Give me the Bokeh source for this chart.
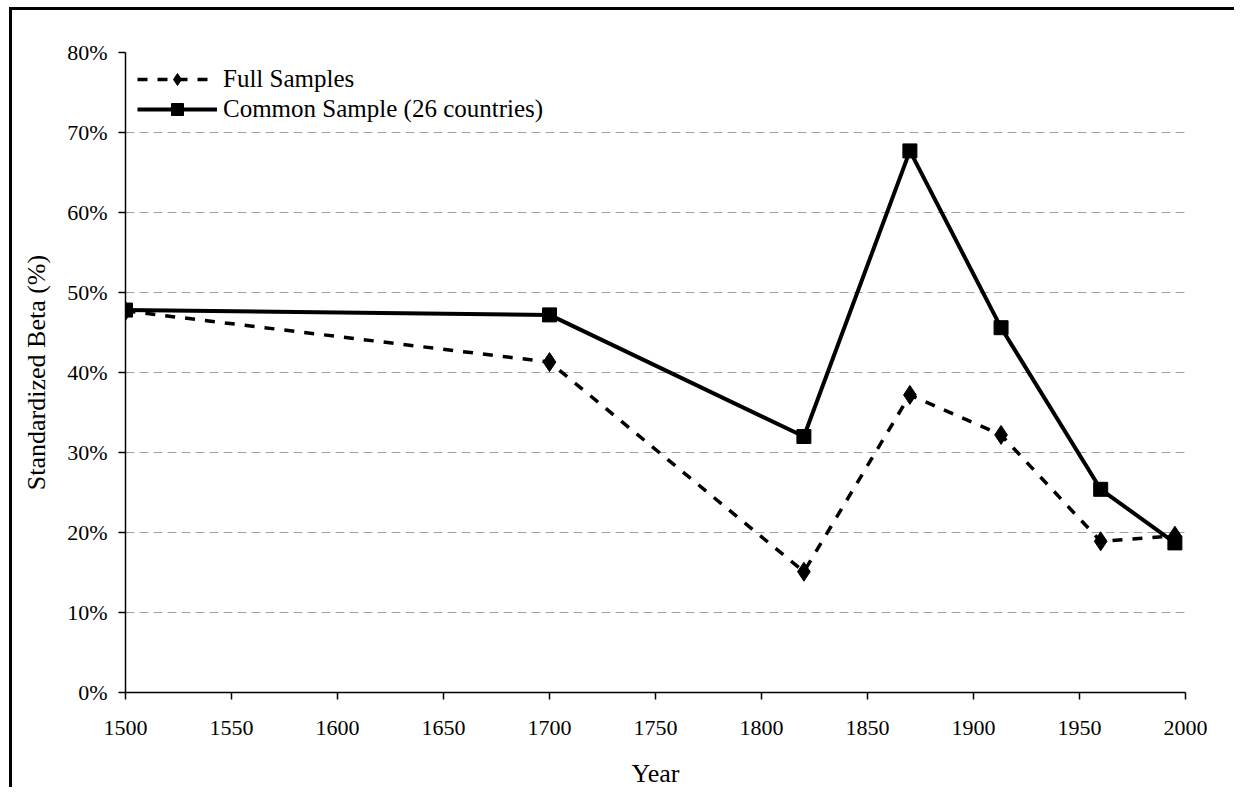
from bokeh.plotting import figure
from bokeh.models import FixedTicker, PrintfTickFormatter, Range1d, Legend, LegendItem
from bokeh.embed import file_html
from bokeh.resources import INLINE

years = [1500, 1700, 1820, 1870, 1913, 1960, 1995]
full_samples = [47.7, 41.3, 15.1, 37.2, 32.2, 18.9, 19.6]
common_sample = [47.8, 47.2, 32.0, 67.7, 45.6, 25.4, 18.7]
x_ticks = [1500, 1550, 1600, 1650, 1700, 1750, 1800, 1850, 1900, 1950, 2000]
y_ticks = [0, 10, 20, 30, 40, 50, 60, 70, 80]

FONT = "Liberation Serif"

p = figure(width=1225, height=780, output_backend="svg", toolbar_location=None,
           x_range=Range1d(1500, 2000), y_range=Range1d(0, 80),
           min_border_left=113, min_border_top=42, min_border_right=52, min_border_bottom=97)
p.styles = {"border-left": "3px solid black", "border-top": "3px solid black",
            "margin-left": "9px", "margin-top": "7px"}
p.outline_line_color = None
p.background_fill_color = "white"
p.border_fill_color = "white"

r_full_line = p.line(years, full_samples, line_color="black", line_width=3.5, line_dash="10 10")
r_full_pts = p.scatter(years, full_samples, marker="diamond", size=19, color="black")
r_common_line = p.line(years, common_sample, line_color="black", line_width=4)
r_common_pts = p.scatter(years, common_sample, marker="square", size=14, color="black")

p.xaxis.ticker = FixedTicker(ticks=x_ticks)
p.yaxis.ticker = FixedTicker(ticks=y_ticks)
p.yaxis.formatter = PrintfTickFormatter(format="%d%%")
p.xgrid.grid_line_color = None
p.ygrid.grid_line_color = "#a0a0a0"
p.ygrid.grid_line_dash = "9 5"
p.ygrid.grid_line_width = 1

for ax in (p.xaxis, p.yaxis):
    ax.axis_line_color = "black"
    ax.axis_line_width = 1.5
    ax.major_tick_line_color = "black"
    ax.major_tick_line_width = 1.5
    ax.major_tick_out = 7
    ax.major_tick_in = 0
    ax.minor_tick_line_color = None
    ax.major_label_text_font = FONT
    ax.major_label_text_font_size = "22px"
    ax.major_label_text_color = "black"
    ax.axis_label_text_font = FONT
    ax.axis_label_text_font_size = "26px"
    ax.axis_label_text_font_style = "normal"
    ax.axis_label_text_color = "black"

p.xaxis.axis_label = "Year"
p.yaxis.axis_label = "Standardized Beta (%)"
p.xaxis.major_label_standoff = 21
p.yaxis.major_label_standoff = 11
p.xaxis.axis_label_standoff = 21
p.yaxis.axis_label_standoff = 13

legend = Legend(items=[
    LegendItem(label="Full Samples", renderers=[r_full_line, r_full_pts]),
    LegendItem(label="Common Sample (26 countries)", renderers=[r_common_line, r_common_pts]),
], location="top_left")
legend.border_line_color = None
legend.background_fill_alpha = 0
legend.label_text_font = FONT
legend.label_text_font_size = "25px"
legend.label_text_color = "black"
legend.glyph_width = 80
legend.glyph_height = 30
legend.spacing = 0
legend.padding = 0
legend.margin = 12
legend.label_standoff = 6
legend.label_height = 30
p.add_layout(legend)

open("out.html", "w").write(file_html(p, INLINE))
